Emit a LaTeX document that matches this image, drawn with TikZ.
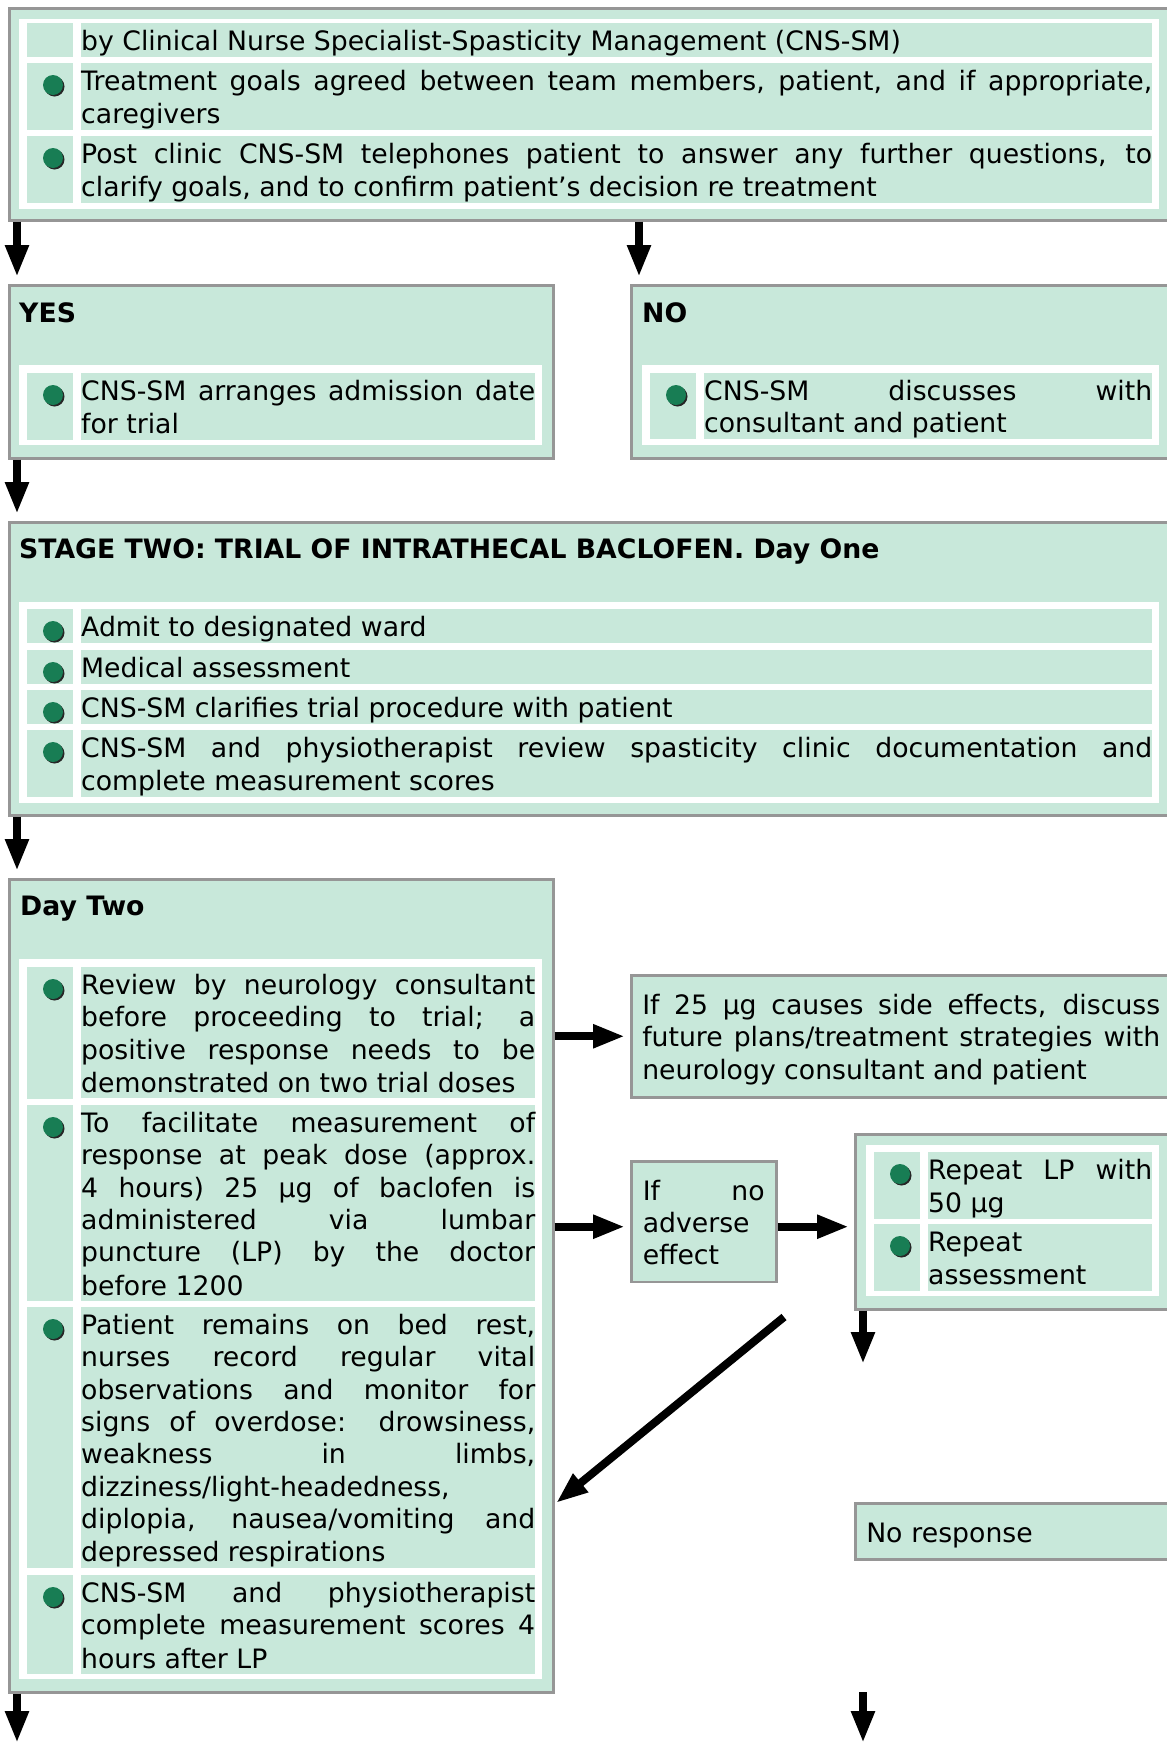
\documentclass[tikz,border=0pt]{standalone}
\usepackage{fontspec}
\setmainfont{DejaVu Sans}
\usetikzlibrary{arrows.meta,calc,shadows}

\definecolor{vertclair}{RGB}{200,232,218}
\definecolor{vertpuce}{RGB}{24,125,84}
\definecolor{bordgris}{RGB}{150,150,150}

\newcommand{\corps}{\fontsize{26.7}{32.3}\selectfont}
\newcommand{\vstrut}{\rule[-5.5pt]{0pt}{32.3pt}}
\tolerance=10000 \hbadness=10000
\hyphenpenalty=10000 \exhyphenpenalty=10000

% une ligne a puce : nom, coin de la cellule texte, largeur, texte
\newcommand{\ligne}[4]{%
  \node[cellule, text width=#3] (#1) at #2 {\vstrut#4\vstrut};
  \fill[vertclair] ($(#1.north west)+(-54,0)$) rectangle ($(#1.south west)+(-8,0)$);
  \node[puce] (#1p) at ($(#1.north west)+(-28,22)$) {};
}

\begin{document}
\begin{tikzpicture}[x=1pt,y=-1pt,
  boite/.style={draw=bordgris, line width=2.5pt, fill=vertclair, anchor=north west, inner sep=0pt},
  panneau/.style={fill=white, anchor=north west, inner sep=0pt},
  cellule/.style={fill=vertclair, anchor=north west, inner xsep=0pt, inner ysep=0.5pt, align=justify, font=\corps},
  titre/.style={anchor=base west, inner sep=0pt, font=\corps\bfseries},
  puce/.style={circle, fill=vertpuce, minimum size=20pt, inner sep=0pt,
    drop shadow={shadow xshift=1.5pt, shadow yshift=-1.5pt, fill=black!85, opacity=1}},
  fleche/.style={line width=8pt, -{Triangle[length=32pt,width=22pt]}},
  bloc/.style={boite, inner xsep=11pt, inner ysep=12pt, align=justify, font=\corps},
]
\useasboundingbox (0,0) rectangle (1167,1743);

 % boite du haut
  \node[boite, minimum width=1172pt, minimum height=212pt] (haut) at (8,7) {};
  \node[panneau, minimum width=1140pt, minimum height=190pt] (phaut) at (19,19) {};
  \node[cellule, text width=1071pt] (l0) at (81,23) {\vstrut by Clinical Nurse Specialist-Spasticity Management (CNS-SM)\vstrut};
  \fill[vertclair] ($(l0.north west)+(-54,0)$) rectangle ($(l0.south west)+(-8,0)$);
  \ligne{l1}{(81,63)}{1071pt}{Treatment goals agreed between team members, patient, and if appropriate,\linebreak caregivers}
  \ligne{l2}{(81,136)}{1071pt}{Post clinic CNS-SM telephones patient to answer any further questions, to\linebreak clarify goals, and to confirm patient’s decision re treatment}

 % oui / non
  \node[boite, minimum width=544pt, minimum height=173pt] (oui) at (8,284) {};
  \node[titre] (toui) at (19,322) {YES};
  \node[panneau, minimum width=523pt, minimum height=80pt] (poui) at (19,365) {};
  \ligne{o1}{(81,373)}{454pt}{CNS-SM arranges admission date\linebreak for trial}

  \node[boite, minimum width=549pt, minimum height=173pt] (non) at (630,284) {};
  \node[titre] (tnon) at (642,322) {NO};
  \node[panneau, minimum width=517pt, minimum height=80pt] (pnon) at (642,365) {};
  \ligne{n1}{(704,373)}{448pt}{CNS-SM discusses with\linebreak consultant and patient}

 % jour un
  \node[boite, minimum width=1172pt, minimum height=293pt] (etape) at (8,521) {};
  \node[titre] (tetape) at (19,558) {STAGE TWO: TRIAL OF INTRATHECAL BACLOFEN. Day One};
  \node[panneau, minimum width=1140pt, minimum height=201pt] (petape) at (19,602) {};
  \ligne{e1}{(81,609)}{1071pt}{Admit to designated ward}
  \ligne{e2}{(81,650)}{1071pt}{Medical assessment}
  \ligne{e3}{(81,690)}{1071pt}{CNS-SM clarifies trial procedure with patient}
  \ligne{e4}{(81,730)}{1071pt}{CNS-SM and physiotherapist review spasticity clinic documentation and\linebreak complete measurement scores}

 % jour deux
  \node[boite, minimum width=544pt, minimum height=813pt] (jour2) at (8,878) {};
  \node[titre] (tjour2) at (20,915) {Day Two};
  \node[panneau, minimum width=523pt, minimum height=720pt] (pjour2) at (19,959) {};
  \ligne{j1}{(81,967)}{454pt}{Review by neurology consultant\linebreak before proceeding to trial; a\linebreak positive response needs to be\linebreak demonstrated on two trial doses}
  \ligne{j2}{(81,1105)}{454pt}{To facilitate measurement of\linebreak response at peak dose (approx.\linebreak 4 hours) 25 µg of baclofen is\linebreak administered via lumbar\linebreak puncture (LP) by the doctor\linebreak before 1200}
  \ligne{j3}{(81,1307)}{454pt}{Patient remains on bed rest,\linebreak nurses record regular vital\linebreak observations and monitor for\linebreak signs of overdose: drowsiness,\linebreak weakness in limbs,\linebreak dizziness/light-headedness,\linebreak diplopia, nausea/vomiting and\linebreak depressed respirations}
  \ligne{j4}{(81,1575)}{454pt}{CNS-SM and physiotherapist\linebreak complete measurement scores 4\linebreak hours after LP}

 % a droite
  \node[bloc, text width=518pt] (effets) at (630,974) {\vstrut If 25 µg causes side effects, discuss\linebreak future plans/treatment strategies with\linebreak neurology consultant and patient\vstrut};
  \node[bloc, text width=122pt, inner xsep=11.5pt] (adverse) at (630,1160) {\vstrut If no\linebreak adverse\linebreak effect\vstrut};
  \node[boite, minimum width=325pt, minimum height=175pt] (repete) at (854,1133) {};
  \node[panneau, minimum width=293pt, minimum height=151pt] (prepete) at (866,1145) {};
  \ligne{r1}{(928,1152)}{224pt}{Repeat LP with\linebreak 50 µg}
  \ligne{r2}{(928,1224)}{224pt}{Repeat\linebreak assessment}
  \node[bloc, text width=300pt, align=left] (noresp) at (854,1502) {\vstrut No response\vstrut};

 % les fleches
  \draw[fleche] ($(haut.south west)+(9,0)$) -- ($(oui.north west)+(9,-7)$);
  \draw[fleche] ($(non.north west |- haut.south)+(9,0)$) -- ($(non.north west)+(9,-7)$);
  \draw[fleche] ($(oui.south west)+(9,0)$) -- ($(etape.north west)+(9,-7)$);
  \draw[fleche] ($(etape.south west)+(9,0)$) -- ($(jour2.north west)+(9,-7)$);
  \draw[fleche] (jour2.east |- effets.west) -- ($(effets.west)+(-5,0)$);
  \draw[fleche] ($(jour2.east |- adverse.west)+(0,5)$) -- ($(adverse.west)+(-5,5)$);
  \draw[fleche] ($(adverse.east)+(0,5)$) -- ($(repete.west |- adverse.east)+(-5,5)$);
  \coordinate (fr) at (863,1364);
  \draw[fleche] ($(repete.south west)+(9,0)$) -- (fr);
  \coordinate (d1) at (784,1317);
  \coordinate (d2) at (556,1503);
  \draw[fleche] (d1) -- (d2);
  \coordinate (b1) at (17,1743);
  \draw[fleche] ($(jour2.south west)+(9,0)$) -- (b1);
  \coordinate (b2) at (863,1692);
  \coordinate (b3) at (863,1743);
  \draw[fleche] (b2) -- (b3);
\end{tikzpicture}
\end{document}
